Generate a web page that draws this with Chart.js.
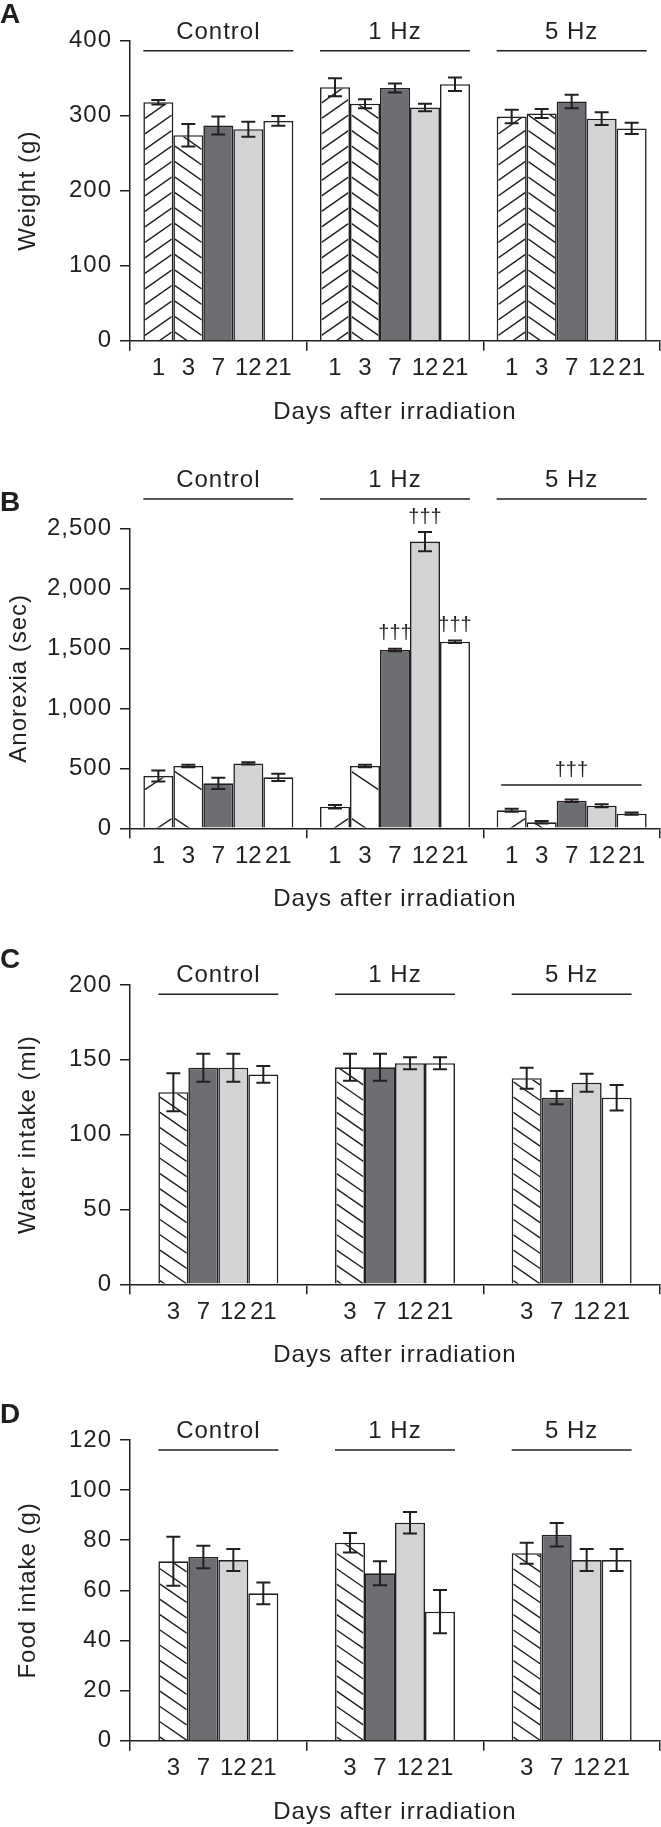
<!DOCTYPE html>
<html>
<head>
<meta charset="utf-8">
<script src="https://cdn.jsdelivr.net/npm/chart.js@4.4.1/dist/chart.umd.min.js"></script>
<style>
body{margin:0;background:#fff;width:661px;height:1827px;position:relative;overflow:hidden}
canvas{position:absolute;left:0}
</style>
</head>
<body>
<canvas id="pA" width="661" height="440" style="top:0"></canvas>
<canvas id="pB" width="661" height="480" style="top:440px"></canvas>
<canvas id="pC" width="661" height="460" style="top:920px"></canvas>
<canvas id="pD" width="661" height="447" style="top:1380px"></canvas>
<script>
const groups = ["Control", "1 Hz", "5 Hz"];
const days5 = ["1", "3", "7", "12", "21"];
const days4 = ["3", "7", "12", "21"];

// rows = day, columns = Control / 1 Hz / 5 Hz
const weightMean = [[318, 338, 299], [274, 316, 303], [287, 337, 319], [282, 311, 296], [293, 342, 283]];
const weightErr  = [[3, 12, 9], [15, 6, 6], [12, 6, 9], [10, 5, 8.5], [6.5, 9, 7.5]];

const anorexiaMean = [[436, 180, 150], [519, 519, 50], [375, 1486, 230], [541, 2389, 188], [425, 1555, 122]];
const anorexiaErr  = [[45, 15, 12], [10, 10, 10], [47, 10, 10], [10, 80, 12], [30, 10, 10]];
const anorexiaDaggers = [[1, 2], [1, 3], [1, 4]];   // [group, day index]
const anorexiaBracket = [2, 360];                   // group, value

const waterMean = [[128.4, 145, 137.7], [144.7, 145, 124.7], [144.7, 147.7, 134.7], [140.2, 147.7, 124.7]];
const waterErr  = [[12.7, 9, 7], [9.3, 9, 4.4], [9.3, 4, 6], [5.6, 4, 8.5]];

const foodMean = [[71.6, 79, 74.8], [73.3, 66.8, 82.2], [72.1, 87, 72.1], [58.8, 51.5, 72.1]];
const foodErr  = [[9.8, 3.9, 4.2], [4.5, 4.8, 4.7], [4.4, 4.3, 4.4], [4.3, 8.6, 4.4]];

const INK = "#231f20";
const FONT = '"Liberation Sans", Arial, sans-serif';
Chart.defaults.font.family = FONT;
Chart.defaults.color = INK;

const dayStyle = {
  "1":  {bg: "#ffffff", hatch: -1},
  "3":  {bg: "#ffffff", hatch: 1},
  "7":  {bg: "#6d6e71"},
  "12": {bg: "#d1d3d4"},
  "21": {bg: "#ffffff"}
};

// words in the figure run a bit wider than Liberation Sans
const spacingPlugin = {
  id: "spacing",
  beforeDraw(chart) { chart.ctx.letterSpacing = "1px"; }
};

// diagonal hatching, clipped inside each bar
const hatchPlugin = {
  id: "hatch",
  afterDatasetDraw(chart, args) {
    const ds = chart.data.datasets[args.index];
    if (!ds.hatch) return;
    const o = chart.options.plugins.deco;
    const ctx = chart.ctx, bw = ds.borderWidth;
    args.meta.data.forEach(el => {
      const {x, y, base, width} = el.getProps(["x", "y", "base", "width"], true);
      const l = x - width / 2 + bw, r = x + width / 2 - bw, t = y + bw;
      const x0 = ds.hatch < 0 ? x + width / 2 : x - width / 2;
      ctx.save();
      ctx.beginPath(); ctx.rect(l, t, r - l, base - t); ctx.clip();
      ctx.strokeStyle = INK; ctx.lineWidth = 1.4;
      const n = Math.ceil((base - y) / o.hs + o.hm * width / o.hs) + 2;
      ctx.beginPath();
      for (let k = -2; k <= n; k++) {
        const yy = base + o.hp - k * o.hs;
        ctx.moveTo(l, yy + ds.hatch * o.hm * (l - x0));
        ctx.lineTo(r, yy + ds.hatch * o.hm * (r - x0));
      }
      ctx.stroke();
      ctx.restore();
    });
  }
};

const errPlugin = {
  id: "errbars",
  afterDatasetsDraw(chart) {
    const ctx = chart.ctx, ys = chart.scales.y;
    ctx.save();
    ctx.strokeStyle = INK; ctx.lineWidth = 2;
    chart.data.datasets.forEach((ds, i) => {
      chart.getDatasetMeta(i).data.forEach((el, j) => {
        const y1 = ys.getPixelForValue(ds.data[j] + ds.err[j]);
        const y2 = ys.getPixelForValue(ds.data[j] - ds.err[j]);
        ctx.beginPath();
        ctx.moveTo(el.x, y1); ctx.lineTo(el.x, y2);
        ctx.moveTo(el.x - 7, y1); ctx.lineTo(el.x + 7, y1);
        ctx.moveTo(el.x - 7, y2); ctx.lineTo(el.x + 7, y2);
        ctx.stroke();
      });
    });
    ctx.restore();
  }
};

const decoPlugin = {
  id: "deco",
  afterDraw(chart) {
    const o = chart.options.plugins.deco, ctx = chart.ctx, a = chart.chartArea, ys = chart.scales.y;
    const n = chart.data.datasets.length;
    ctx.save();
    ctx.fillStyle = INK; ctx.strokeStyle = INK; ctx.lineWidth = 1.5;
    ctx.textBaseline = "middle";
    ctx.font = "bold 28px " + FONT; ctx.textAlign = "left";
    ctx.letterSpacing = "0px";
    ctx.fillText(o.letter, 0, a.top - 25);

    ctx.font = "24px " + FONT; ctx.textAlign = "center";
    ctx.letterSpacing = "1px";
    chart.data.labels.forEach((g, j) => {
      const f = chart.getDatasetMeta(0).data[j], l = chart.getDatasetMeta(n - 1).data[j];
      const x1 = f.x - f.width / 2, x2 = l.x + l.width / 2, ly = a.top + o.lineOff;
      ctx.beginPath(); ctx.moveTo(x1, ly); ctx.lineTo(x2, ly); ctx.stroke();
      ctx.fillText(g, (x1 + x2) / 2, ly - 18.5);
    });
    ctx.letterSpacing = "0px";
    chart.data.datasets.forEach((ds, i) => {
      chart.getDatasetMeta(i).data.forEach(el => ctx.fillText(ds.label, el.x, a.bottom + 28));
    });

    ctx.font = "20px " + FONT;
    (o.daggers || []).forEach(([g, d]) => {
      const ds = chart.data.datasets[d], el = chart.getDatasetMeta(d).data[g];
      ctx.fillText("\u2020\u2020\u2020", el.x, ys.getPixelForValue(ds.data[g] + ds.err[g]) - 15);
    });
    if (o.bracket) {
      const [g, v] = o.bracket;
      const f = chart.getDatasetMeta(0).data[g], l = chart.getDatasetMeta(n - 1).data[g];
      const x1 = f.x - f.width / 2 + 4.5, x2 = l.x + l.width / 2 - 5, yb = ys.getPixelForValue(v);
      ctx.beginPath(); ctx.moveTo(x1, yb); ctx.lineTo(x2, yb); ctx.stroke();
      ctx.fillText("\u2020\u2020\u2020", (x1 + x2) / 2, yb - 15);
    }
    ctx.restore();
  }
};

function panel(id, p) {
  const H = p.H;
  return new Chart(document.getElementById(id), {
    type: "bar",
    data: {
      labels: groups,
      datasets: p.days.map((d, i) => ({
        label: d,
        data: p.mean[i],
        err: p.err[i],
        hatch: dayStyle[d].hatch || 0,
        backgroundColor: dayStyle[d].bg,
        borderColor: INK,
        borderWidth: 1.6,
        barPercentage: 1,
        categoryPercentage: p.cat
      }))
    },
    options: {
      responsive: false,
      animation: false,
      layout: {padding: {top: p.top, left: 0, right: 1, bottom: 0}},
      plugins: {
        legend: {display: false},
        tooltip: {enabled: false},
        deco: {letter: p.letter, lineOff: p.lineOff, daggers: p.daggers, bracket: p.bracket,
               hs: p.hs, hm: p.hm, hp: p.hp}
      },
      scales: {
        x: {
          grid: {offset: true, drawOnChartArea: false, drawTicks: true, tickLength: 10, color: INK, lineWidth: 1.5},
          border: {color: INK, width: 1.5},
          ticks: {display: false},
          title: {display: true, text: "Days after irradiation", font: {size: 24}, color: INK,
                  padding: {top: 0, bottom: H - p.bottom - 71.5 - 14.4}},
          afterFit(s) { s.height = H - p.bottom; }
        },
        y: {
          min: 0, max: p.max,
          ticks: {stepSize: p.step, font: {size: 24}, color: INK, padding: 8,
                  callback: v => v.toLocaleString("en-US")},
          grid: {drawOnChartArea: false, drawTicks: true, tickLength: 10, color: INK, lineWidth: 1.5},
          border: {color: INK, width: 1.5},
          title: {display: true, text: p.yTitle, font: {size: 24}, color: INK, padding: {top: p.ytPad, bottom: 0}},
          afterFit(s) { s.width = 130; }
        }
      }
    },
    plugins: [spacingPlugin, hatchPlugin, errPlugin, decoPlugin]
  });
}

panel("pA", {letter: "A", yTitle: "Weight (g)", days: days5, mean: weightMean, err: weightErr,
  max: 400, step: 100, H: 440, top: 40.7, bottom: 340.7, cat: 0.849, lineOff: 10, ytPad: 14,
  hs: 15.5, hm: 0.702, hp: -9});
panel("pB", {letter: "B", yTitle: "Anorexia (sec)", days: days5, mean: anorexiaMean, err: anorexiaErr,
  max: 2500, step: 500, H: 480, top: 88.3, bottom: 388.3, cat: 0.849, lineOff: -29.3, ytPad: 5,
  daggers: anorexiaDaggers, bracket: anorexiaBracket, hs: 47, hm: 0.67, hp: -10});
panel("pC", {letter: "C", yTitle: "Water intake (ml)", days: days4, mean: waterMean, err: waterErr,
  max: 200, step: 50, H: 460, top: 65, bottom: 364.3, cat: 0.679, lineOff: 9.3, ytPad: 14,
  hs: 15.3, hm: 0.69, hp: -4});
panel("pD", {letter: "D", yTitle: "Food intake (g)", days: days4, mean: foodMean, err: foodErr,
  max: 120, step: 20, H: 447, top: 60, bottom: 360.7, cat: 0.679, lineOff: 10, ytPad: 14,
  hs: 15.3, hm: 0.69, hp: -4});
</script>
</body>
</html>
